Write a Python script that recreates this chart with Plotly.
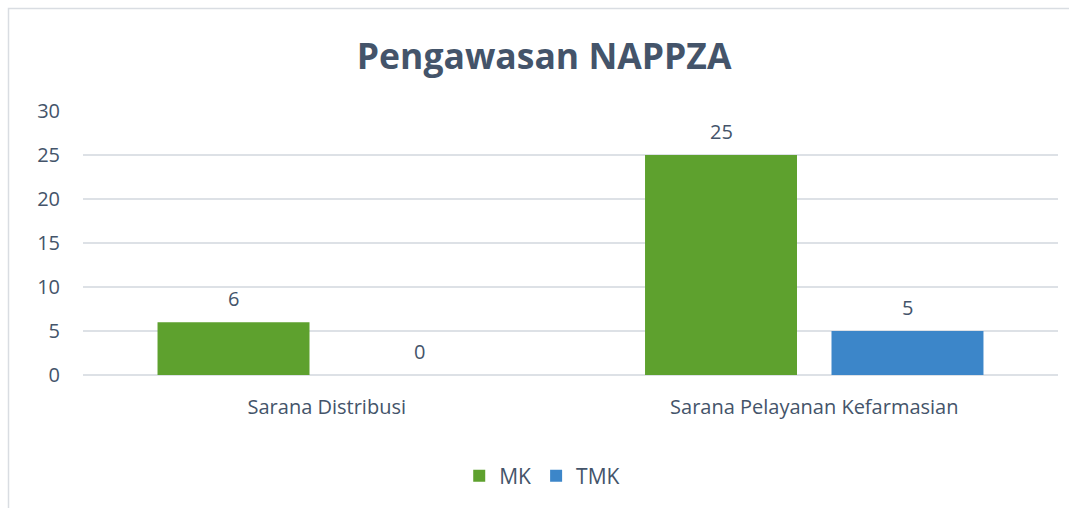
import plotly.graph_objects as go

categories = ["Sarana Distribusi", "Sarana Pelayanan Kefarmasian"]
mk_values = [6, 25]
tmk_values = [0, 5]
series_names = ["MK", "TMK"]
title_text = "Pengawasan NAPPZA"
y_ticks = [0, 5, 10, 15, 20, 25, 30]

W, H = 1069, 508
L, R, T, B = 83, 11, 111, 133
pw, ph = W - L - R, H - T - B

def px_to_paper_x(px):
    return (px - L) / pw

def px_to_paper_y(py):
    return (H - B - py) / ph

text_color = "#44546A"
font_family = "Open Sans, Noto Sans, sans-serif"
BARGAP, GROUPGAP = 0.235, 0.185
colors = ["#5EA12E", "#3C86C9"]

fig = go.Figure()
for name, vals, col in zip(series_names, [mk_values, tmk_values], colors):
    fig.add_trace(go.Bar(
        name=name, x=categories, y=vals,
        marker=dict(color=col, line=dict(width=0)),
    ))

# data labels placed above bars (offset within group derived from bar gap settings)
cat_px = pw / len(categories)
slot_px = cat_px * (1 - BARGAP) / len(series_names)
for i, vals in enumerate([mk_values, tmk_values]):
    xshift = (i - (len(series_names) - 1) / 2) * slot_px
    for c, v in zip(categories, vals):
        fig.add_annotation(x=c, y=v, text=str(v), showarrow=False,
                           xshift=xshift, yshift=24, yanchor="middle",
                           font=dict(size=20, color=text_color, family=font_family))

fig.update_layout(
    width=W, height=H,
    margin=dict(l=L, r=R, t=T, b=B, pad=0),
    paper_bgcolor="white", plot_bgcolor="white",
    barmode="group", bargap=BARGAP, bargroupgap=GROUPGAP,
    font=dict(family=font_family, color=text_color, size=20),
    title=dict(text="<b>" + title_text + "</b>", x=0.509, xref="container", xanchor="center",
               y=1 - 57 / H, yref="container", yanchor="middle",
               font=dict(size=35.5, color=text_color, family=font_family)),
    legend=dict(orientation="h", x=0.471, xanchor="center", xref="paper",
                y=px_to_paper_y(476), yanchor="middle",
                font=dict(size=21, color=text_color, family=font_family),
                itemwidth=30, traceorder="normal"),
    showlegend=True,
)
fig.update_yaxes(range=[0, 30], tickvals=y_ticks, showgrid=True, gridcolor="#DDE1E6", gridwidth=1.5,
                 zeroline=True, zerolinecolor="#DDE1E6", zerolinewidth=1.5,
                 showline=False, ticks="", ticklabelstandoff=22,
                 tickfont=dict(size=20, color=text_color))
fig.update_xaxes(showline=False, ticks="", tickfont=dict(size=20, color=text_color),
                 ticklabelstandoff=18)

fig.add_shape(type="rect", xref="paper", yref="paper",
              x0=px_to_paper_x(8.5), x1=px_to_paper_x(1080),
              y0=px_to_paper_y(520), y1=px_to_paper_y(8.5),
              line=dict(color="#D9DDE2", width=1.5), fillcolor="rgba(0,0,0,0)", layer="below")

fig.write_html("out.html", config={"displayModeBar": False},
               post_script="document.body.style.margin='0';document.body.style.overflow='hidden';")
